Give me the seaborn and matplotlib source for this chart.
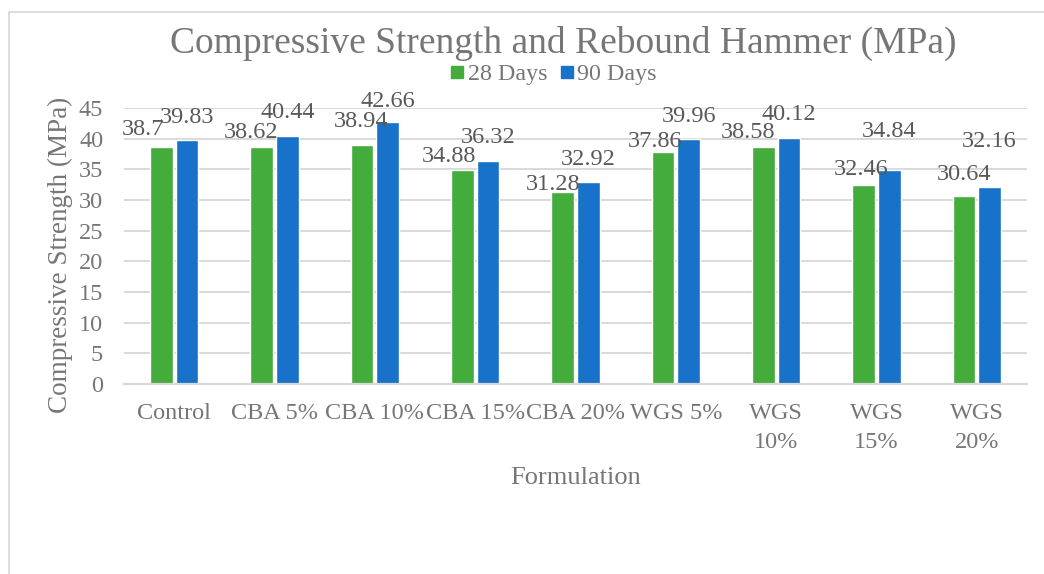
import matplotlib
matplotlib.use("Agg")
import matplotlib.pyplot as plt
from matplotlib.lines import Line2D
import seaborn as sns
import pandas as pd

# Compressive strength (MPa) per formulation at two curing ages
formulations = ["Control", "CBA 5%", "CBA 10%", "CBA 15%", "CBA 20%",
                "WGS 5%", "WGS\n10%", "WGS\n15%", "WGS\n20%"]
days_28 = [38.7, 38.62, 38.94, 34.88, 31.28, 37.86, 38.58, 32.46, 30.64]
days_90 = [39.83, 40.44, 42.66, 36.32, 32.92, 39.96, 40.12, 34.84, 32.16]
series_names = ["28 Days", "90 Days"]
y_ticks = [0, 5, 10, 15, 20, 25, 30, 35, 40, 45]

# hand-placed value label nudges (pixels: dx, dy above bar top)
label_nudge = {
    0: [(-18, 12), (-11, 9), (-1, 18), (-13, 8), (-10, 2), (-8, 5), (-15, 9), (-3, 10), (0, 16)],
    1: [(0, 17), (0, 18), (0, 15), (0, 18), (0, 17), (0, 17), (0, 18), (0, 33), (0, 40)],
}

df = pd.DataFrame({
    "Formulation": formulations * 2,
    "Age": [series_names[0]] * len(formulations) + [series_names[1]] * len(formulations),
    "Strength": days_28 + days_90,
})

sns.set_theme(style="white")
plt.rcParams["font.family"] = ["Liberation Serif", "DejaVu Serif"]

GREEN = "#43AC3B"
BLUE = "#1872C9"
TEXT = "#767676"
LABEL = "#595959"
GRID = "#D9D9D9"

fig = plt.figure(figsize=(10.44, 5.74), dpi=100)
ax = fig.add_axes([124 / 1044, 1 - 384 / 574, (1027 - 124) / 1044, (384 - 108) / 574])

sns.barplot(data=df, x="Formulation", y="Strength", hue="Age",
            palette=[GREEN, BLUE], width=0.51, gap=0.12, ax=ax,
            legend=False, saturation=1, errorbar=None)

ax.set_ylim(0, 45)
ax.set_yticks(y_ticks)
ax.set_xlim(-0.5, len(formulations) - 0.5)
ax.yaxis.grid(True, color=GRID, linewidth=1.4)
ax.set_axisbelow(True)
for side in ["left", "right", "top"]:
    ax.spines[side].set_visible(False)
ax.spines["bottom"].set_color(GRID)
ax.spines["bottom"].set_linewidth(1.6)
ax.tick_params(axis="y", length=0, pad=15, labelsize=17.5, labelcolor=TEXT)
ax.tick_params(axis="x", length=0, pad=14, labelsize=17.5, labelcolor=TEXT)
ax.set_xticks(range(len(formulations)))
ax.set_xticklabels(formulations, linespacing=1.45, va="top")

ax.set_xlabel("Formulation", fontsize=19, color=TEXT, labelpad=10)
ax.set_ylabel("Compressive Strength (MPa)", fontsize=19.5, color=TEXT)
ax.yaxis.set_label_coords(-0.057, 0.467)

# value labels above each bar
for k, container in enumerate(ax.containers):
    for i, bar in enumerate(container):
        h = bar.get_height()
        dx, dy = label_nudge[k][i]
        ax.annotate(f"{h:g}", (bar.get_x() + bar.get_width() / 2, h),
                    xytext=(dx, dy), textcoords="offset pixels",
                    ha="center", va="baseline", fontsize=17.5, color=LABEL)

fig.text(563 / 1044, 1 - 43 / 574, "Compressive Strength and Rebound Hammer (MPa)",
         ha="center", va="center", fontsize=27, color=TEXT)

handles = [Line2D([], [], marker="s", linestyle="none", markersize=8.5,
                  markerfacecolor=c, markeredgecolor=c) for c in (GREEN, BLUE)]
fig.legend(handles, series_names, loc="center", bbox_to_anchor=(554 / 1044, 1 - 74 / 574),
           ncol=2, frameon=False, fontsize=17.3, labelcolor=TEXT,
           handlelength=0.5, handletextpad=0.2, columnspacing=0.55, borderaxespad=0)

# chart border
fig.add_artist(Line2D([8.5 / 1044, 8.5 / 1044], [0, 1 - 12 / 574],
                      transform=fig.transFigure, color=GRID, linewidth=1.3))
fig.add_artist(Line2D([8.5 / 1044, 1], [1 - 12 / 574, 1 - 12 / 574],
                      transform=fig.transFigure, color=GRID, linewidth=1.3))

fig.savefig("out.png", dpi=100, facecolor="white")
